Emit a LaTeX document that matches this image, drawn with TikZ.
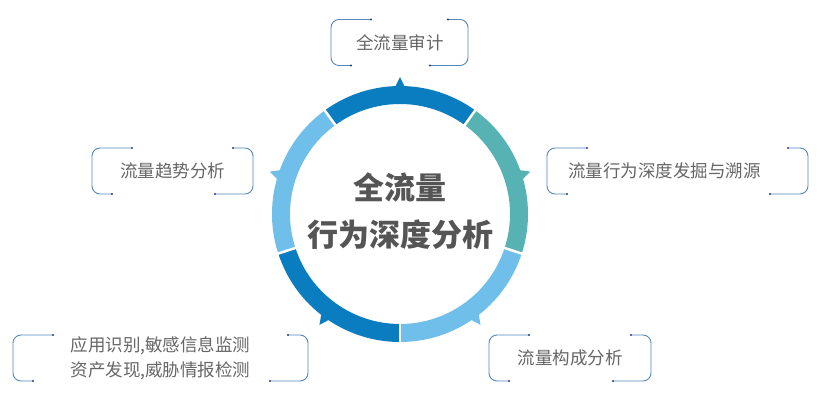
\documentclass[tikz,border=0pt]{standalone}
\usepackage{fontspec}
\usepackage{xcolor}
\usepackage{tikz}
\newfontfamily\cjk{Noto Sans CJK SC}

\definecolor{blu}{RGB}{10,124,192}
\definecolor{verde}{RGB}{87,178,180}
\definecolor{azzurro}{RGB}{112,190,234}
\definecolor{cornicecol}{RGB}{84,136,190}
\definecolor{puntocol}{RGB}{44,62,122}
\definecolor{testocol}{RGB}{102,102,102}
\definecolor{titolocol}{RGB}{85,85,85}

\tikzset{
  voce/.style={font=\cjk\fontsize{17.5}{25}\selectfont, text=testocol, align=center, inner sep=0pt},
  cornice/.style={draw=cornicecol, line width=0.9pt, rounded corners=8pt},
  punto/.style={fill=puntocol}
}

% riquadro: sinistra, destra, centro verticale
\newcommand{\riquadro}[3]{%
  \draw[cornice] (#1+40,#3+23) -- (#1,#3+23) -- (#1,#3-23) -- (#1+20,#3-23);
  \draw[cornice] (#2-20,#3+23) -- (#2,#3+23) -- (#2,#3-23) -- (#2-38,#3-23);
  \fill[punto] (#1+40,#3+23) circle (1.1);
  \fill[punto] (#1+20,#3-23) circle (1.1);
  \fill[punto] (#2-20,#3+23) circle (1.1);
  \fill[punto] (#2-38,#3-23) circle (1.1);
}

\begin{document}
\begin{tikzpicture}[x=1pt, y=1pt]
        \useasboundingbox[fill=white] (0,0) rectangle (820,415);

        % Anello
        \coordinate (C) at (400,201);
        \foreach \s/\c in {54/blu, -18/verde, -90/azzurro, -162/blu, 126/azzurro} {
            \draw[line width=18pt, \c] ([shift={(\s:119)}]C) arc (\s:\s+72:119);
            \fill[\c] ([shift={(\s+36+3:124)}]C) -- ([shift={(\s+36:137)}]C) -- ([shift={(\s+36-3:124)}]C) -- cycle;
        }
        \foreach \s in {54, -18, -90, -162, 126}
            \draw[white, line width=2.5pt] ([shift={(\s:105)}]C) -- ([shift={(\s:133)}]C);

        % Testo centrale
        \node (titolo) at (400,204) [font=\cjk\bfseries\fontsize{31}{47}\selectfont, text=titolocol, align=center] {全流量\\行为深度分析};

        % Voci
        \node (audit) at (400,372.5) [voce] {全流量审计};
        \node (fonte) at (664.5,244) [voce] {流量行为深度发掘与溯源};
        \node (composizione) at (570,57) [voce] {流量构成分析};
        \node (tendenza) at (172.5,244) [voce] {流量趋势分析};
        \node (rilevamento) at (160.5,57) [voce] {应用识别,敏感信息监测\\资产发现,威胁情报检测};

        % Cornici
        \riquadro{331}{468}{372.5}
        \riquadro{547}{808}{244}
        \riquadro{489}{651}{57}
        \riquadro{92}{253}{244}
        \riquadro{13}{308}{57}
    \end{tikzpicture}
\end{document}
